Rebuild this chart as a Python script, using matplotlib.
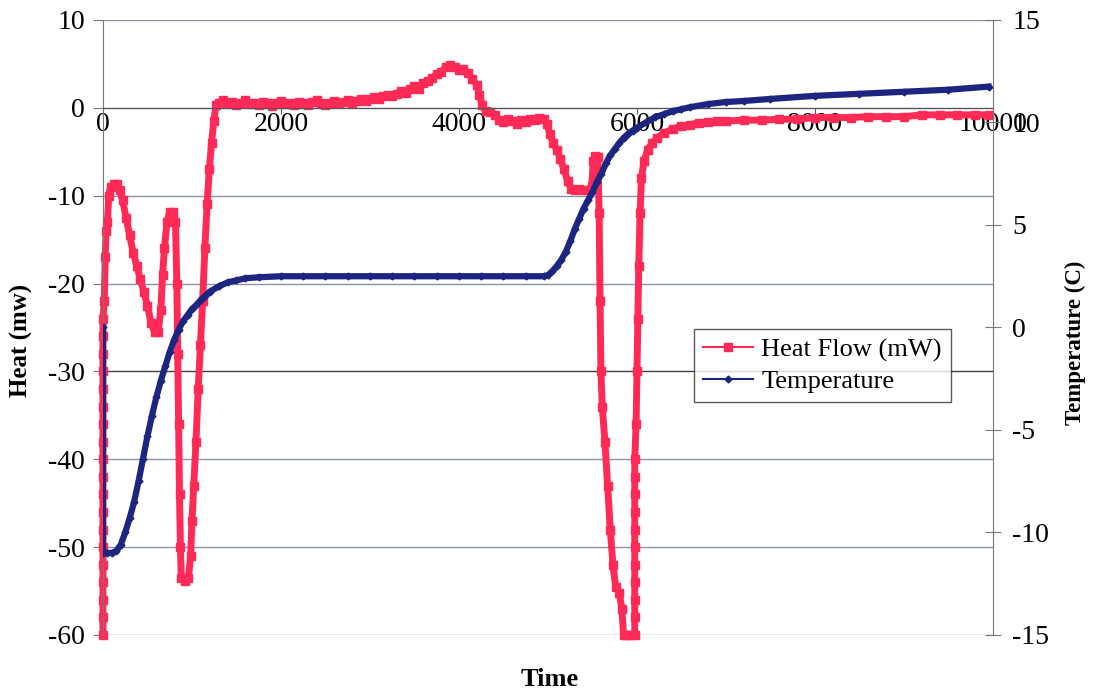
import numpy as np
import matplotlib.pyplot as plt

plt.rcParams['font.family'] = ['Liberation Serif', 'DejaVu Serif']
plt.rcParams['axes.unicode_minus'] = False

# Heat flow readings (time, mW)
heat_time = [0] * 19 + [
    15, 25, 35, 50, 65, 85, 120, 160, 190, 220, 260, 300, 340, 380, 420, 460, 500, 540,
    580, 620, 650, 670, 690, 720, 750, 790, 815, 830, 840, 850, 860, 870, 880, 920, 960,
    985, 1000, 1020, 1045, 1070, 1095, 1120, 1145, 1170, 1195, 1220, 1245, 1270, 1300,
    1350, 1400, 1450, 1500, 1550, 1600, 1650, 1700, 1750, 1800, 1850, 1900, 1950, 2000,
    2050, 2100, 2150, 2200, 2250, 2300, 2350, 2400, 2450, 2500, 2550, 2600, 2650, 2700,
    2750, 2800, 2850, 2900, 2950, 3000, 3050, 3100, 3150, 3200, 3250, 3300, 3350, 3400,
    3450, 3500, 3550, 3600, 3650, 3700, 3750, 3800, 3850, 3900, 3950, 4000, 4050, 4100,
    4150, 4200, 4230, 4260, 4300, 4350, 4400, 4450, 4500, 4550, 4600, 4650, 4700, 4750,
    4800, 4850, 4900, 4950, 4990, 5020, 5060, 5100, 5140, 5180, 5220, 5260, 5300, 5350,
    5400, 5450, 5490, 5510, 5530, 5560, 5575, 5585, 5595, 5610, 5640, 5670, 5700, 5730,
    5760, 5800, 5830, 5850, 5880, 5930] + [5975] * 11 + [
    5990, 6000, 6010, 6020, 6035, 6050, 6080, 6120, 6170, 6230, 6300, 6400, 6500, 6600,
    6700, 6800, 6900, 7000, 7200, 7400, 7600, 7800, 8000, 8200, 8400, 8600, 8800, 9000,
    9200, 9400, 9600, 9800, 9950]
heat_flow = [
    -60, -58, -56, -54, -52, -50, -48, -46, -44, -42, -40, -38, -36, -34, -32, -30, -28,
    -26, -24,
    -22, -17, -14, -13, -10, -9, -8.7, -8.7, -9.3, -10.5, -12.5, -14.5, -16.5, -18, -19.5,
    -21, -22.5, -24.5, -25.5, -25.5, -23, -19, -16, -13, -11.8, -11.8, -13, -20, -28, -36,
    -44, -50, -53.5, -53.8, -53.5, -51, -47, -43, -38, -32, -27, -22, -16, -11, -7, -4,
    -1.5, 0.3, 0.6, 0.9, 0.5, 0.7, 0.3, 0.6, 0.9, 0.4, 0.6, 0.3, 0.7, 0.5, 0.2, 0.6, 0.8,
    0.4, 0.6, 0.3, 0.7, 0.5, 0.3, 0.7, 0.9, 0.5, 0.3, 0.6, 0.8, 0.5, 0.7, 0.9, 0.6, 0.8,
    1.0, 0.8, 1.0, 1.2, 1.0, 1.3, 1.5, 1.3, 1.6, 1.9, 1.7, 2.2, 2.5, 2.2, 2.8, 3.1, 3.4,
    3.8, 4.1, 4.6, 4.9, 4.6, 4.3, 4.4, 4.0, 3.3, 2.6, 1.5, 0.3, -0.4, -0.5, -0.8, -1.4,
    -1.6, -1.3, -1.5, -1.8, -1.4, -1.6, -1.3, -1.4, -1.1, -1.3, -1.8, -3.0, -4.0, -4.8,
    -5.8, -7.0, -8.3, -9.2, -9.3, -9.2, -9.4, -9.3, -9.0, -6.0, -5.5, -5.6, -12, -22, -30,
    -34, -38, -43, -48, -52, -54.5, -55.2, -57, -60, -60, -60,
    -60, -58, -56, -54, -52, -50, -48, -46, -44, -42, -40,
    -36, -30, -24, -18, -12, -8, -6, -4.8, -4, -3.4, -2.9, -2.4, -2.1, -1.9, -1.7, -1.6,
    -1.5, -1.5, -1.4, -1.4, -1.3, -1.3, -1.1, -1.1, -1.1, -1.0, -1.0, -1.0, -0.8, -0.8,
    -0.8, -0.8, -0.8]

# Temperature readings (time, C)
temp_time = [
    0, 0, 50, 100, 150, 200, 250, 300, 350, 400, 450, 500, 550, 600, 650, 700, 750, 800,
    850, 900, 950, 1000, 1050, 1100, 1150, 1200, 1300, 1400, 1500, 1600, 1750, 2000, 2250,
    2500, 2750, 3000, 3250, 3500, 3750, 4000, 4250, 4500, 4750, 4950, 5000, 5050, 5100,
    5150, 5200, 5250, 5300, 5350, 5400, 5450, 5500, 5550, 5600, 5650, 5700, 5750, 5800,
    5850, 5900, 5950, 6000, 6100, 6200, 6300, 6400, 6500, 6600, 6800, 7000, 7200, 7500,
    8000, 8500, 9000, 9500, 9950]
temperature = [
    0, -11, -11, -11, -10.9, -10.6, -10.0, -9.3, -8.5, -7.5, -6.4, -5.3, -4.3, -3.4, -2.6,
    -1.9, -1.2, -0.6, -0.1, 0.3, 0.6, 0.9, 1.1, 1.35, 1.55, 1.75, 2.0, 2.2, 2.3, 2.4, 2.45,
    2.5, 2.5, 2.5, 2.5, 2.5, 2.5, 2.5, 2.5, 2.5, 2.5, 2.5, 2.5, 2.5, 2.55, 2.75, 3.0, 3.3,
    3.7, 4.2, 4.8, 5.3, 5.8, 6.2, 6.6, 7.1, 7.5, 8.0, 8.4, 8.7, 9.0, 9.25, 9.45, 9.6, 9.75,
    10.0, 10.25, 10.4, 10.55, 10.65, 10.75, 10.9, 11.0, 11.05, 11.15, 11.3, 11.4, 11.5,
    11.6, 11.75]

x_ticks = [0, 2000, 4000, 6000, 8000, 10000]
heat_ticks = [-60, -50, -40, -30, -20, -10, 0, 10]
temp_ticks = [-15, -10, -5, 0, 5, 10, 15]

red = '#ff2a55'
navy = '#1c2580'

fig = plt.figure(figsize=(10.93, 6.92), dpi=100)
ax = fig.add_axes([0.0942, 0.0824, 0.8143, 0.8887])
ax2 = ax.twinx()

l1, = ax.plot(heat_time, heat_flow, color=red, lw=5, marker='s', ms=6,
              mec=red, mfc=red, label='Heat Flow (mW)', clip_on=False)
l2, = ax2.plot(temp_time, temperature, color=navy, lw=4.5, marker='D', ms=3.5,
               mec=navy, mfc=navy, label='Temperature')

ax.set_xlim(0, 10000)
ax.set_ylim(-60, 10)
ax2.set_ylim(-15, 15)
ax.set_xticks(x_ticks)
ax.set_yticks(heat_ticks)
ax2.set_yticks(temp_ticks)

ax.grid(axis='y', color='#8a94a8', lw=1)
for val, gl in zip(heat_ticks, ax.yaxis.get_gridlines()):
    if val == -30:
        gl.set_color('#404040')
ax.set_axisbelow(True)

ax.spines['top'].set_visible(False)
ax2.spines['top'].set_visible(False)
ax2.spines['bottom'].set_visible(False)
ax2.spines['left'].set_visible(False)
ax.spines['right'].set_visible(False)
ax.spines['bottom'].set_position(('data', 0))
ax.spines['bottom'].set_color('#555555')
ax.spines['left'].set_color('#777777')
ax2.spines['right'].set_color('#777777')

ax.tick_params(axis='x', direction='out', length=4, pad=-1, labelsize=20, color='#555555')
ax.tick_params(axis='y', direction='out', length=7, pad=6, labelsize=20, color='#777777')
ax2.tick_params(axis='y', direction='inout', length=12, pad=8, labelsize=20, color='#777777')

fig.text(0.02, 0.508, 'Heat (mw)', rotation=90, ha='center', va='center',
         fontsize=18, fontweight='bold')
fig.text(0.9835, 0.505, 'Temperature (C)', rotation=90, ha='center', va='center',
         fontsize=16.5, fontweight='bold')
fig.text(0.503, 0.002, 'Time', ha='center', va='bottom', fontsize=19, fontweight='bold')

leg = ax2.legend(handles=[l1, l2], loc='upper left', bbox_to_anchor=(0.635, 0.525),
                 bbox_transform=fig.transFigure, fontsize=19, frameon=True,
                 fancybox=False, edgecolor='#333333', handlelength=1.9,
                 handletextpad=0.3, borderpad=0.35, labelspacing=0.3,
                 borderaxespad=0)
leg.get_frame().set_linewidth(1)
for h in leg.legend_handles:
    h.set_linewidth(1.5)

fig.savefig('out.png', dpi=100)
